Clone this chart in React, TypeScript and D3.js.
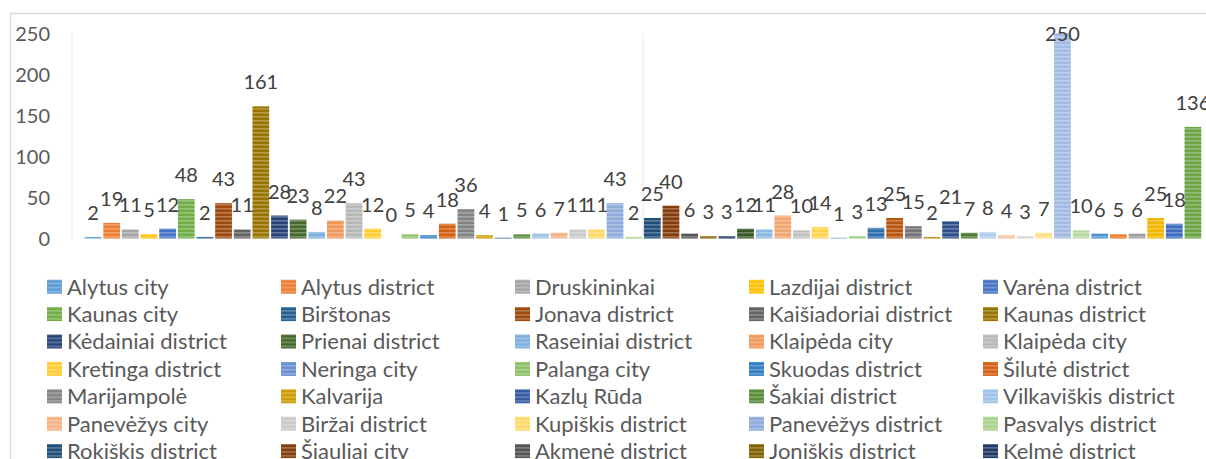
import React, { useEffect } from 'react'
import * as d3 from 'd3'

// one series per municipality, all in a single category
const municipalities = [
  'Alytus city', 'Alytus district', 'Druskininkai', 'Lazdijai district', 'Varėna district',
  'Kaunas city', 'Birštonas', 'Jonava district', 'Kaišiadoriai district', 'Kaunas district',
  'Kėdainiai district', 'Prienai district', 'Raseiniai district', 'Klaipėda city', 'Klaipėda city',
  'Kretinga district', 'Neringa city', 'Palanga city', 'Skuodas district', 'Šilutė district',
  'Marijampolė', 'Kalvarija', 'Kazlų Rūda', 'Šakiai district', 'Vilkaviškis district',
  'Panevėžys city', 'Biržai district', 'Kupiškis district', 'Panevėžys district', 'Pasvalys district',
  'Rokiškis district', 'Šiauliai city', 'Akmenė district', 'Joniškis district', 'Kelmė district',
  'Pakruojis district', 'Radviliškis district', 'Šiauliai district', 'Tauragė district', 'Jurbarkas district',
  'Pagėgiai', 'Šilalė district', 'Telšiai district', 'Mažeikiai district', 'Plungė district',
  'Rietavas', 'Utena district', 'Anykščiai district', 'Ignalina district', 'Molėtai district',
  'Visaginas', 'Zarasai district', 'Vilnius city', 'Elektrėnai', 'Šalčininkai district',
  'Širvintos district', 'Švenčionys district', 'Trakai district', 'Ukmergė district', 'Vilnius district',
]

const counts = [
  2, 19, 11, 5, 12, 48, 2, 43, 11, 161,
  28, 23, 8, 22, 43, 12, 0, 5, 4, 18,
  36, 4, 1, 5, 6, 7, 11, 11, 43, 2,
  25, 40, 6, 3, 3, 12, 11, 28, 10, 14,
  1, 3, 13, 25, 15, 2, 21, 7, 8, 4,
  3, 7, 250, 10, 6, 5, 6, 25, 18, 136,
]

const yTicks = [0, 50, 100, 150, 200, 250]

// Office theme accents and the shade steps Excel cycles through
const accents = ['#5B9BD5', '#ED7D31', '#A5A5A5', '#FFC000', '#4472C4', '#70AD47']
const shades = [
  [1, 0], [0.6, 0], [0.8, 0.2], [0.8, 0], [0.6, 0.4],
  [0.5, 0], [0.7, 0.3], [0.7, 0], [0.5, 0.5], [0.95, 0],
]

function seriesColor(i: number) {
  const c = d3.hsl(accents[i % 6])
  const [mod, off] = shades[Math.floor(i / 6) % shades.length]
  c.l = c.l * mod + off
  return c.formatHex()
}

const W = 1206
const H = 459
const font = 'Lato, "Open Sans", sans-serif'

export default function App() {
  useEffect(() => {
    document.body.style.margin = '0'
    document.body.style.overflow = 'hidden'
  }, [])

  const idx = municipalities.map((_, i) => String(i))
  const x = d3.scaleBand().domain(idx).range([72, 1214]).paddingInner(0.1).paddingOuter(0.68)
  const y = d3.scaleLinear().domain([0, 250]).range([238.5, 33.3])

  const legendX = (i: number) => 47 + (i % 5) * 234
  const legendY = (i: number) => 286.7 + Math.floor(i / 5) * 27.4

  return (
    <svg width={W} height={H} style={{ display: 'block', background: '#fff' }}>
      <defs>
        {municipalities.map((_, i) => {
          const col = seriesColor(i)
          return (
            <pattern key={i} id={`p${i}`} patternUnits="userSpaceOnUse" width={4} height={4}>
              <rect width={4} height={4} fill={col} />
              <rect y={0} width={4} height={1.6} fill="#fff" opacity={0.28} />
            </pattern>
          )
        })}
      </defs>

      {/* chart frame */}
      <rect x={10.5} y={13.5} width={1400} height={600} fill="none" stroke="#D9D9D9" strokeWidth={1.5} />

      {/* faint vertical gridlines */}
      {[72, 643].map((gx) => (
        <line key={gx} x1={gx} x2={gx} y1={y(250)} y2={y(0)} stroke="#F0F0F0" strokeWidth={1.5} />
      ))}

      {/* y axis labels */}
      {yTicks.map((t) => (
        <text
          key={t}
          x={50}
          y={y(t)}
          dy="0.36em"
          textAnchor="end"
          fontFamily={font}
          fontSize={20}
          fill="#595959"
        >
          {t}
        </text>
      ))}

      {/* bars */}
      {counts.map((v, i) => (
        <rect
          key={i}
          x={x(String(i))}
          y={y(v)}
          width={x.bandwidth()}
          height={y(0) - y(v)}
          fill={`url(#p${i})`}
        />
      ))}

      {/* value labels */}
      {counts.map((v, i) => (
        <text
          key={i}
          x={(x(String(i)) || 0) + x.bandwidth() / 2}
          y={Math.max(y(v) - 17, 40.5)}
          textAnchor="middle"
          fontFamily={font}
          fontSize={20}
          fill="#404040"
        >
          {v}
        </text>
      ))}

      {/* legend */}
      {municipalities.map((name, i) => (
        <g key={i} transform={`translate(${legendX(i)},${legendY(i)})`}>
          <rect x={0} y={-7} width={15} height={14} fill={`url(#p${i})`} />
          <text x={20} y={0} dy="0.36em" fontFamily={font} fontSize={22} fill="#595959">
            {name}
          </text>
        </g>
      ))}
    </svg>
  )
}
